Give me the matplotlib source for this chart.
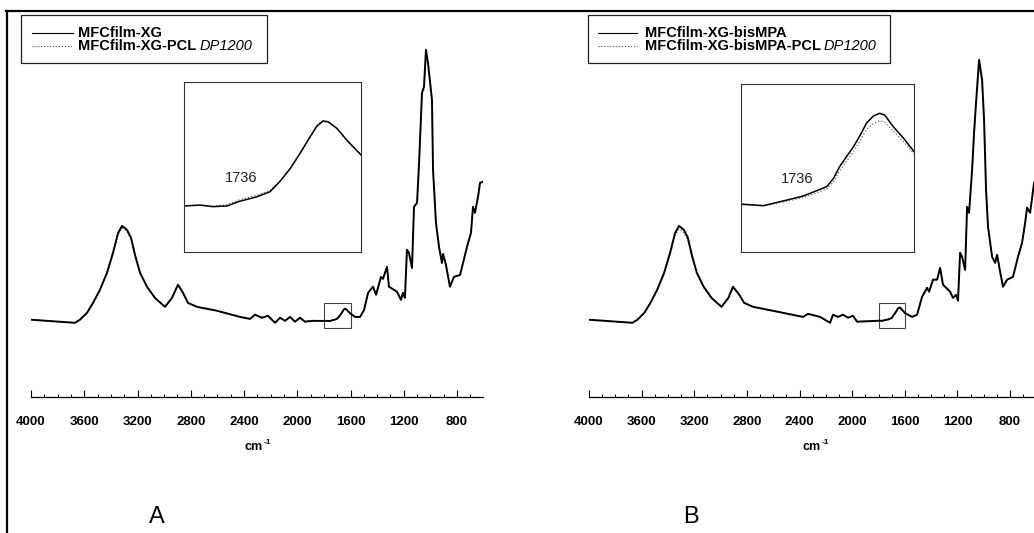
import numpy as np
import matplotlib.pyplot as plt
from matplotlib.ticker import MultipleLocator
from matplotlib.patches import Rectangle
from matplotlib.lines import Line2D

plt.rcParams['font.family'] = ['Liberation Sans', 'DejaVu Sans']

W, H = 1034, 533

# panel A, wavenumber (cm-1) and absorbance (a.u.)
wn_a = [4000, 3670, 3632, 3579, 3534, 3482, 3429, 3384, 3346, 3316,
        3279, 3249, 3219, 3181, 3129, 3069, 2993, 2941, 2896, 2858,
        2821, 2753, 2603, 2430, 2355, 2317, 2265, 2220, 2167, 2129,
        2092, 2054, 2017, 1979, 1942, 1889, 1799, 1782, 1767, 1751,
        1739, 1729, 1718, 1703, 1692, 1680, 1669, 1658, 1650, 1643,
        1637, 1627, 1616, 1600, 1566, 1528, 1498, 1468, 1431, 1408,
        1371, 1356, 1326, 1311, 1251, 1221, 1206, 1191, 1176, 1161,
        1138, 1123, 1100, 1085, 1063, 1048, 1033, 1018, 988, 980,
        958, 935, 913, 905, 883, 853, 823, 777, 725, 695,
        680, 665, 642, 627, 605]
xg = [0.036, 0.025, 0.036, 0.061, 0.096, 0.143, 0.204, 0.275, 0.346, 0.371,
      0.357, 0.329, 0.268, 0.204, 0.154, 0.114, 0.082, 0.114, 0.161, 0.132,
      0.096, 0.082, 0.068, 0.046, 0.039, 0.054, 0.043, 0.050, 0.025, 0.043,
      0.032, 0.046, 0.029, 0.043, 0.029, 0.032, 0.0316, 0.0320, 0.0312, 0.0316,
      0.0337, 0.0349, 0.0362, 0.0388, 0.0439, 0.0507, 0.0584, 0.0666, 0.0724, 0.0751,
      0.0746, 0.0712, 0.0652, 0.0577, 0.046, 0.046, 0.071, 0.132, 0.154, 0.125,
      0.189, 0.182, 0.225, 0.154, 0.136, 0.107, 0.132, 0.114, 0.286, 0.275,
      0.221, 0.439, 0.454, 0.596, 0.846, 0.868, 1.000, 0.954, 0.821, 0.571,
      0.382, 0.296, 0.239, 0.271, 0.232, 0.154, 0.189, 0.196, 0.296, 0.346,
      0.439, 0.418, 0.475, 0.525, 0.529]
xg_pcl = [0.036, 0.025, 0.036, 0.060, 0.095, 0.141, 0.200, 0.270, 0.340, 0.364,
          0.352, 0.324, 0.265, 0.202, 0.153, 0.114, 0.082, 0.113, 0.160, 0.132,
          0.096, 0.082, 0.068, 0.046, 0.039, 0.054, 0.043, 0.050, 0.025, 0.043,
          0.032, 0.046, 0.029, 0.043, 0.029, 0.032, 0.0316, 0.0320, 0.0314, 0.0322,
          0.0345, 0.0357, 0.0370, 0.0395, 0.0441, 0.0506, 0.0582, 0.0663, 0.0721, 0.0748,
          0.0743, 0.0710, 0.0651, 0.0577, 0.046, 0.046, 0.071, 0.132, 0.154, 0.125,
          0.189, 0.182, 0.225, 0.154, 0.136, 0.107, 0.132, 0.114, 0.286, 0.275,
          0.221, 0.439, 0.454, 0.590, 0.840, 0.860, 0.990, 0.950, 0.821, 0.571,
          0.382, 0.296, 0.239, 0.271, 0.232, 0.154, 0.189, 0.196, 0.296, 0.346,
          0.439, 0.418, 0.475, 0.525, 0.529]

# panel B
wn_b = [4000, 3670, 3632, 3579, 3534, 3482, 3429, 3384, 3346, 3316,
        3279, 3249, 3219, 3181, 3129, 3069, 2993, 2941, 2906, 2858,
        2821, 2753, 2603, 2374, 2336, 2244, 2168, 2146, 2108, 2070,
        2032, 1994, 1963, 1811, 1797, 1774, 1747, 1728, 1701, 1693,
        1686, 1678, 1670, 1662, 1655, 1647, 1640, 1634, 1624, 1612,
        1600, 1545, 1507, 1469, 1431, 1416, 1386, 1355, 1332, 1310,
        1256, 1234, 1211, 1196, 1180, 1165, 1142, 1127, 1112, 1089,
        1074, 1059, 1036, 1013, 998, 983, 968, 937, 914, 899,
        876, 854, 823, 778, 740, 709, 686, 671, 648, 618,
        605]
xg_bismpa = [0.036, 0.025, 0.036, 0.061, 0.096, 0.143, 0.204, 0.275, 0.346, 0.371,
             0.357, 0.329, 0.268, 0.204, 0.154, 0.114, 0.082, 0.114, 0.154, 0.125,
             0.096, 0.082, 0.068, 0.046, 0.057, 0.046, 0.025, 0.054, 0.046, 0.054,
             0.043, 0.050, 0.029, 0.032, 0.0327, 0.0320, 0.0349, 0.0370, 0.0418, 0.0462,
             0.0522, 0.0574, 0.0625, 0.0686, 0.0747, 0.0784, 0.0798, 0.0790, 0.0729, 0.0669,
             0.0600, 0.046, 0.054, 0.118, 0.150, 0.136, 0.179, 0.179, 0.221, 0.161,
             0.136, 0.114, 0.125, 0.104, 0.275, 0.261, 0.214, 0.439, 0.418, 0.571,
             0.704, 0.811, 0.964, 0.893, 0.750, 0.500, 0.368, 0.261, 0.239, 0.268,
             0.207, 0.154, 0.179, 0.189, 0.261, 0.311, 0.382, 0.436, 0.418, 0.525,
             0.536]
xg_bismpa_pcl = [0.036, 0.025, 0.036, 0.060, 0.094, 0.140, 0.199, 0.268, 0.337, 0.360,
                 0.348, 0.322, 0.263, 0.201, 0.152, 0.113, 0.082, 0.113, 0.153, 0.125,
                 0.096, 0.082, 0.068, 0.046, 0.057, 0.046, 0.025, 0.054, 0.046, 0.054,
                 0.043, 0.050, 0.029, 0.032, 0.0327, 0.0318, 0.0343, 0.0362, 0.0405, 0.0445,
                 0.0500, 0.0550, 0.0600, 0.0658, 0.0715, 0.0745, 0.0759, 0.0752, 0.0706, 0.0650,
                 0.0588, 0.046, 0.054, 0.118, 0.150, 0.136, 0.179, 0.179, 0.221, 0.161,
                 0.136, 0.114, 0.125, 0.104, 0.275, 0.261, 0.214, 0.439, 0.418, 0.565,
                 0.695, 0.800, 0.950, 0.885, 0.745, 0.500, 0.368, 0.261, 0.239, 0.268,
                 0.207, 0.154, 0.179, 0.189, 0.261, 0.311, 0.382, 0.436, 0.418, 0.525,
                 0.536]

legend_a = ['MFCfilm-XG', 'MFCfilm-XG-PCL']
legend_b = ['MFCfilm-XG-bisMPA', 'MFCfilm-XG-bisMPA-PCL']
dp_label = 'DP1200'
peak_label = '1736'
panel_names = ['A', 'B']


def rect(l, t, r, b):
    # pixel box -> figure fraction [left, bottom, width, height]
    return [l / W, 1 - b / H, (r - l) / W, (b - t) / H]


def fx(x):
    return x / W


def fy(y):
    return 1 - y / H


def draw_panel(fig, x0, x1, inset_box, wn, y1, y2, names, leg_box, handle_x, text_x, name, name_x):
    ax = fig.add_axes(rect(x0, 38.6, x1, 397))
    ax.plot(wn, y2, color='#555555', ls=':', lw=0.9)
    ax.plot(wn, y1, color='black', lw=1.4)
    ax.set_xlim(4000, 605)
    ax.set_ylim(-0.24, 1.04)
    for s in ['left', 'right', 'top']:
        ax.spines[s].set_visible(False)
    ax.spines['bottom'].set_linewidth(0.9)
    ax.set_yticks([])
    ax.xaxis.set_major_locator(MultipleLocator(400))
    ax.xaxis.set_minor_locator(MultipleLocator(100))
    ax.tick_params(axis='x', which='major', direction='in', length=5, width=0.8, pad=14, labelsize=9.5)
    ax.tick_params(axis='x', which='minor', direction='in', length=2.5, width=0.7)
    for t in ax.get_xticklabels():
        t.set_fontweight('bold')
    ax.add_patch(Rectangle((1600, 0.008), 200, 0.087, fill=False, ec='#444444', lw=0.8))

    ins = fig.add_axes(rect(*inset_box))
    ins.plot(wn, y2, color='#666666', ls=':', lw=0.9)
    ins.plot(wn, y1, color='black', lw=1.1)
    ins.set_xlim(1800, 1600)
    ins.set_ylim(0.008, 0.095)
    ins.set_xticks([])
    ins.set_yticks([])
    for s in ins.spines.values():
        s.set_color('#333333')
        s.set_linewidth(0.8)
    ins.text(1735, 0.046, peak_label, ha='center', va='center', fontsize=10.5, color='#222222')

    # legend drawn by hand (mixed bold / italic label)
    l, t, r, b = leg_box
    fig.patches.append(Rectangle((fx(l), fy(b)), (r - l) / W, (b - t) / H, fill=False,
                                 ec='#222222', lw=0.9, transform=fig.transFigure))
    rows = [32.5, 46]
    styles = [dict(ls='-', color='black'), dict(ls=':', color='#444444')]
    for yy, st, lab in zip(rows, styles, names):
        fig.add_artist(Line2D([fx(handle_x[0]), fx(handle_x[1])], [fy(yy), fy(yy)], lw=0.8, **st))
        txt = fig.text(fx(text_x), fy(yy), lab, fontsize=10.5, fontweight='bold', va='center')
    fig.canvas.draw()
    bb = txt.get_window_extent(fig.canvas.get_renderer())
    fig.text(fx(bb.x1 + 3), fy(rows[1]), dp_label, fontsize=10.5, style='italic', va='center')

    # x axis unit and panel name
    xc = (x0 + 452 / 2) + 6
    fig.text(fx(xc), fy(447), 'cm', fontsize=9, fontweight='bold', ha='right', va='center')
    fig.text(fx(xc + 0.5), fy(443), '-1', fontsize=6, fontweight='bold', ha='left', va='center')
    fig.text(fx(name_x), fy(517), name, fontsize=17, ha='center', va='center')


fig = plt.figure(figsize=(W / 100, H / 100), dpi=100)

# outer frame (top and left edges visible)
fig.add_artist(Line2D([fx(6), 1], [fy(10.5), fy(10.5)], color='black', lw=1.6))
fig.add_artist(Line2D([fx(6.5), fx(6.5)], [fy(10.5), 0], color='black', lw=1.6))

draw_panel(fig, 31, 31 + 3395 * 0.133125, (184, 82, 361, 252), wn_a, xg, xg_pcl, legend_a,
           (21, 15, 267, 63), (32, 73), 78, panel_names[0], 157)
draw_panel(fig, 589, 589 + 3395 * 0.1316, (741, 84, 914, 252), wn_b, xg_bismpa, xg_bismpa_pcl, legend_b,
           (588, 15, 890, 63), (598, 637), 645, panel_names[1], 691)

fig.savefig('out.png', dpi=100)
